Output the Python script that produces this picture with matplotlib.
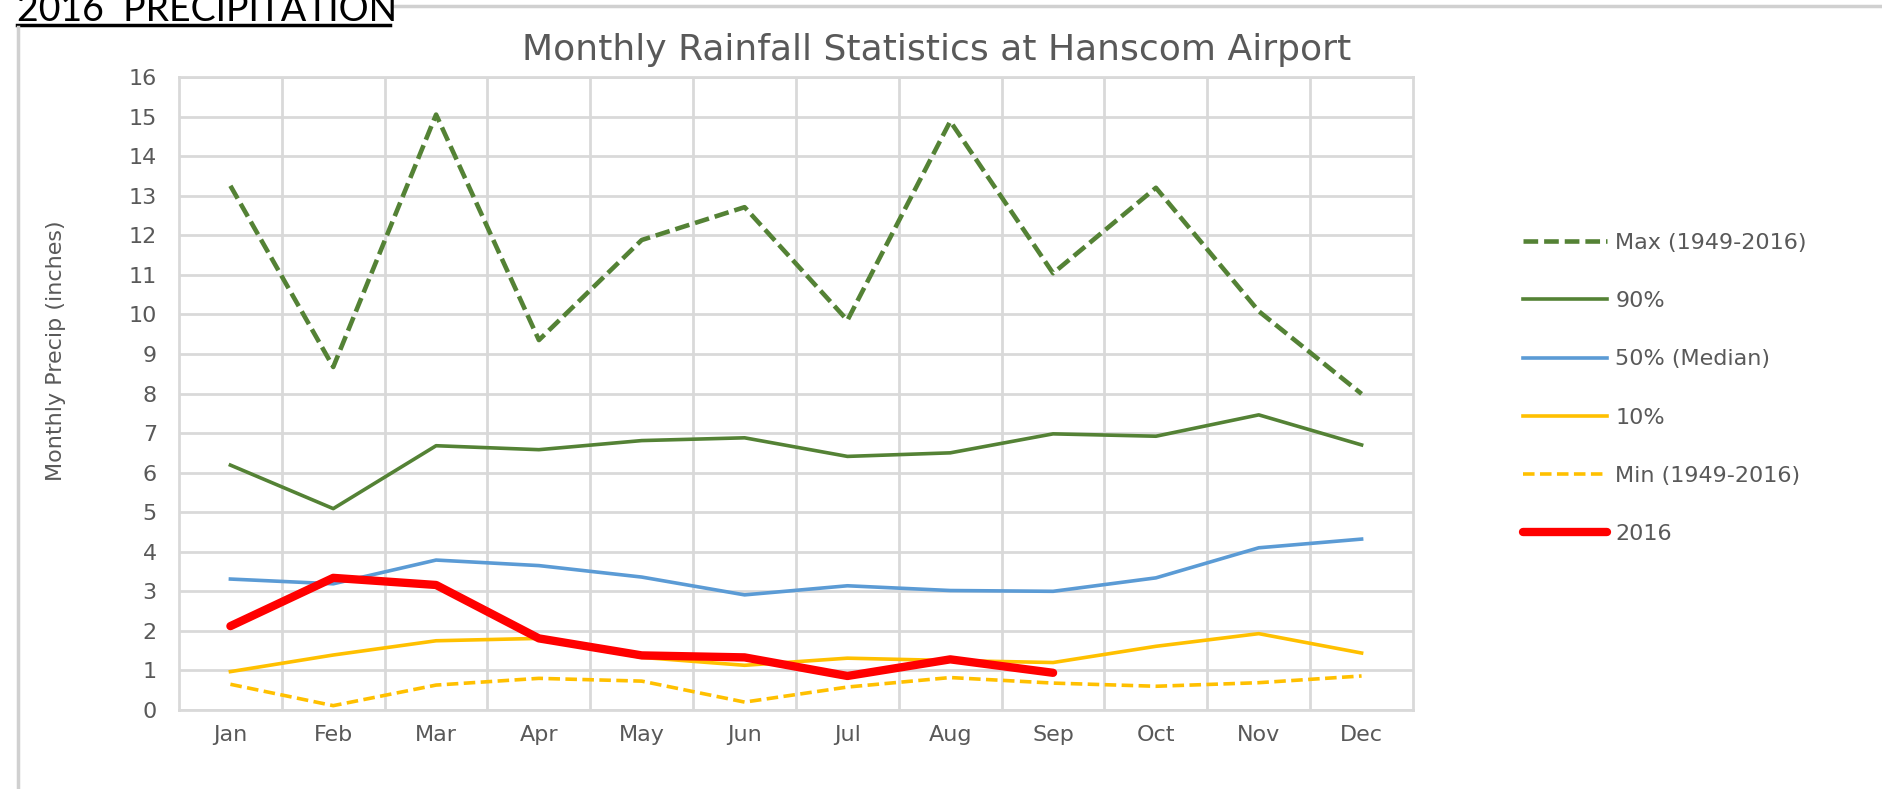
import numpy as np
import matplotlib
matplotlib.use('Agg')
import matplotlib.pyplot as plt
from matplotlib.lines import Line2D

months = ['Jan', 'Feb', 'Mar', 'Apr', 'May', 'Jun', 'Jul', 'Aug', 'Sep', 'Oct', 'Nov', 'Dec']
max_precip = [13.25, 8.67, 15.05, 9.35, 11.88, 12.71, 9.85, 14.88, 11.04, 13.2, 10.08, 7.99]
p90 = [6.19, 5.09, 6.68, 6.58, 6.81, 6.88, 6.41, 6.5, 6.98, 6.92, 7.46, 6.7]
p50 = [3.31, 3.19, 3.79, 3.65, 3.36, 2.91, 3.14, 3.02, 3.0, 3.34, 4.1, 4.32]
p10 = [0.97, 1.39, 1.75, 1.81, 1.33, 1.13, 1.31, 1.25, 1.2, 1.61, 1.93, 1.44]
min_precip = [0.65, 0.11, 0.63, 0.8, 0.73, 0.2, 0.58, 0.82, 0.68, 0.6, 0.69, 0.86]
y2016 = [2.12, 3.34, 3.16, 1.81, 1.38, 1.33, 0.86, 1.28, 0.94]

green = '#548235'
blue = '#5B9BD5'
gold = '#FFC000'
red = '#FF0000'
grid_c = '#D9D9D9'
txt_c = '#595959'

plt.rcParams['font.family'] = ['DejaVu Sans']

W, H = 1883, 789
fig = plt.figure(figsize=(W / 100, H / 100), dpi=100)
ax = fig.add_axes([179 / W, 1 - 710 / H, (1413 - 179) / W, (710 - 77) / H])

x = np.arange(len(months))
ax.plot(x, max_precip, color=green, lw=3.3, dashes=(3.2, 1.3), label='Max (1949-2016)')
ax.plot(x, p90, color=green, lw=2.6, label='90%')
ax.plot(x, p50, color=blue, lw=2.6, label='50% (Median)')
ax.plot(x, p10, color=gold, lw=2.6, label='10%')
ax.plot(x, min_precip, color=gold, lw=2.6, dashes=(3.2, 1.5), label='Min (1949-2016)')
ax.plot(x[:len(y2016)], y2016, color=red, lw=6, solid_capstyle='round', label='2016')

ax.set_xlim(-0.5, 11.5)
ax.set_ylim(0, 16)
ax.set_xticks(x)
ax.set_xticklabels(months)
ax.set_xticks(np.arange(0.5, 11.5), minor=True)
ax.set_yticks(np.arange(0, 17))
ax.tick_params(axis='both', which='both', length=0, labelsize=16, colors=txt_c)
ax.tick_params(axis='x', pad=11)
ax.tick_params(axis='y', pad=16)
ax.grid(axis='y', which='major', color=grid_c, lw=2)
ax.grid(axis='x', which='minor', color=grid_c, lw=2)
ax.set_axisbelow(True)
for s in ax.spines.values():
    s.set_color(grid_c)
    s.set_linewidth(2)

fig.text(937 / W, 1 - 50 / H, 'Monthly Rainfall Statistics at Hanscom Airport',
         ha='center', va='center', fontsize=26, color=txt_c)
fig.text(56 / W, 1 - 351 / H, 'Monthly Precip (inches)', rotation=90, ha='center', va='center',
         fontsize=16, color=txt_c, family=['Liberation Sans Narrow', 'DejaVu Sans'])

# header in the corner, cut at the top like the slide
fig.text(17 / W, 1 - 21 / H, '2016  PRECIPITATION', ha='left', va='baseline',
         fontsize=27, color='black', family=['Lato', 'DejaVu Sans'])
fig.add_artist(Line2D([17 / W, 390 / W], [1 - 25 / H, 1 - 25 / H], color='black', lw=2.5))
fig.add_artist(Line2D([392 / W, 1], [1 - 6 / H, 1 - 6 / H], color='#D0D0D0', lw=2.5))
fig.add_artist(Line2D([18 / W, 18 / W], [0, 1 - 27 / H], color='#D0D0D0', lw=2.5))

leg = fig.legend(loc='upper left', bbox_to_anchor=(1523 / W, 1 - 233 / H), frameon=False,
                 fontsize=16, handlelength=3.8, handletextpad=0.35, labelspacing=1.72,
                 borderpad=0, borderaxespad=0)
for t in leg.get_texts():
    t.set_color(txt_c)

fig.savefig('out.png', dpi=100)
